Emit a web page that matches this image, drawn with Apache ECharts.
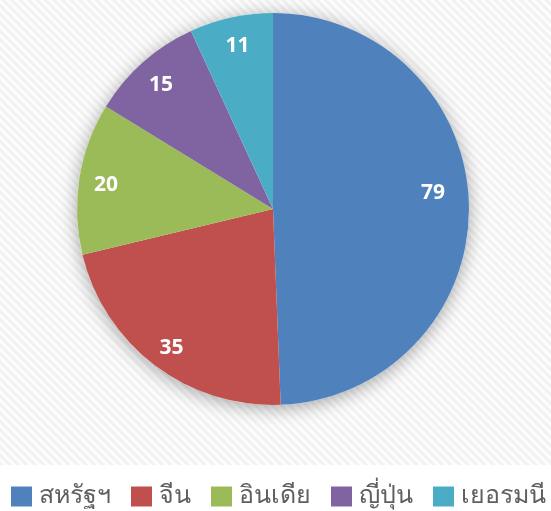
<!DOCTYPE html>
<html>
<head>
<meta charset="utf-8">
<script src="https://cdn.jsdelivr.net/npm/echarts@6/dist/echarts.min.js"></script>
<style>
	html, body { margin: 0; padding: 0; background: #fff; }
	.wrap { position: relative; width: 551px; height: 511px; }
	.bg {
		position: absolute; left: 0; top: 0; width: 551px; height: 465px;
		background: repeating-linear-gradient(45deg, #f2f2f2 0px, #f2f2f2 2px, #fdfdfd 3px, #fdfdfd 5px, #f2f2f2 6px);
	}
	#chart { position: absolute; left: 0; top: 0; width: 551px; height: 511px; }
</style>
</head>
<body>
<div class="wrap">
	<div class="bg"></div>
	<div id="chart"></div>
</div>
<script>
const categories = ["สหรัฐฯ", "จีน", "อินเดีย", "ญี่ปุ่น", "เยอรมนี"]
const values = [79, 35, 20, 15, 11]
const colors = ["#4F81BD", "#C0504D", "#9BBB59", "#8064A2", "#4BACC6"]

let chart = echarts.init(document.getElementById("chart"))
let pieData = categories.map((name, i) => ({ name: name, value: values[i], itemStyle: { color: colors[i] } }))
// the big slice's label sits a bit further in (Excel best fit)
let labelData = categories.map((name, i) => {
	let item = { name: name, value: values[i] }
	if (i === 0) item.label = { offset: [-10, -13] }
	return item
})

let option = {
	backgroundColor: "transparent",
	animation: false,
	legend: {
		left: 11,
		top: 484,
		width: 2000,
		padding: 0,
		itemWidth: 21,
		itemHeight: 20,
		itemGap: 20,
		icon: "rect",
		data: categories,
		textStyle: {
			color: "#5f5f5f",
			fontSize: 25,
			padding: [0, 0, 0, 2]
		}
	},
	series: [
		// shadow under pie
		{
			name: "shadow",
			type: "pie",
			center: [273, 209],
			radius: [0, 196],
			silent: true,
			z: 1,
			label: { show: false },
			itemStyle: {
				color: "#ffffff",
				shadowBlur: 18,
				shadowColor: "rgba(0,0,0,0.35)",
				shadowOffsetY: 3
			},
			data: [{ name: "", value: 1 }]
		},
		{
			name: "main",
			type: "pie",
			center: [273, 209],
			radius: [0, 196],
			startAngle: 90,
			clockwise: true,
			z: 2,
			label: { show: false },
			labelLine: { show: false },
			itemStyle: { borderWidth: 0 },
			data: pieData
		},
		// label ring
		{
			name: "labels",
			type: "pie",
			center: [273, 209],
			radius: [140, 194],
			startAngle: 90,
			clockwise: true,
			silent: true,
			z: 3,
			itemStyle: { color: "transparent" },
			label: {
				show: true,
				position: "inside",
				formatter: "{c}",
				color: "#fff",
				fontSize: 21,
				fontWeight: "bold",
				fontFamily: "Open Sans",
				offset: [1, 3]
			},
			labelLine: { show: false },
			data: labelData
		}
	]
}

chart.setOption(option)
</script>
</body>
</html>
